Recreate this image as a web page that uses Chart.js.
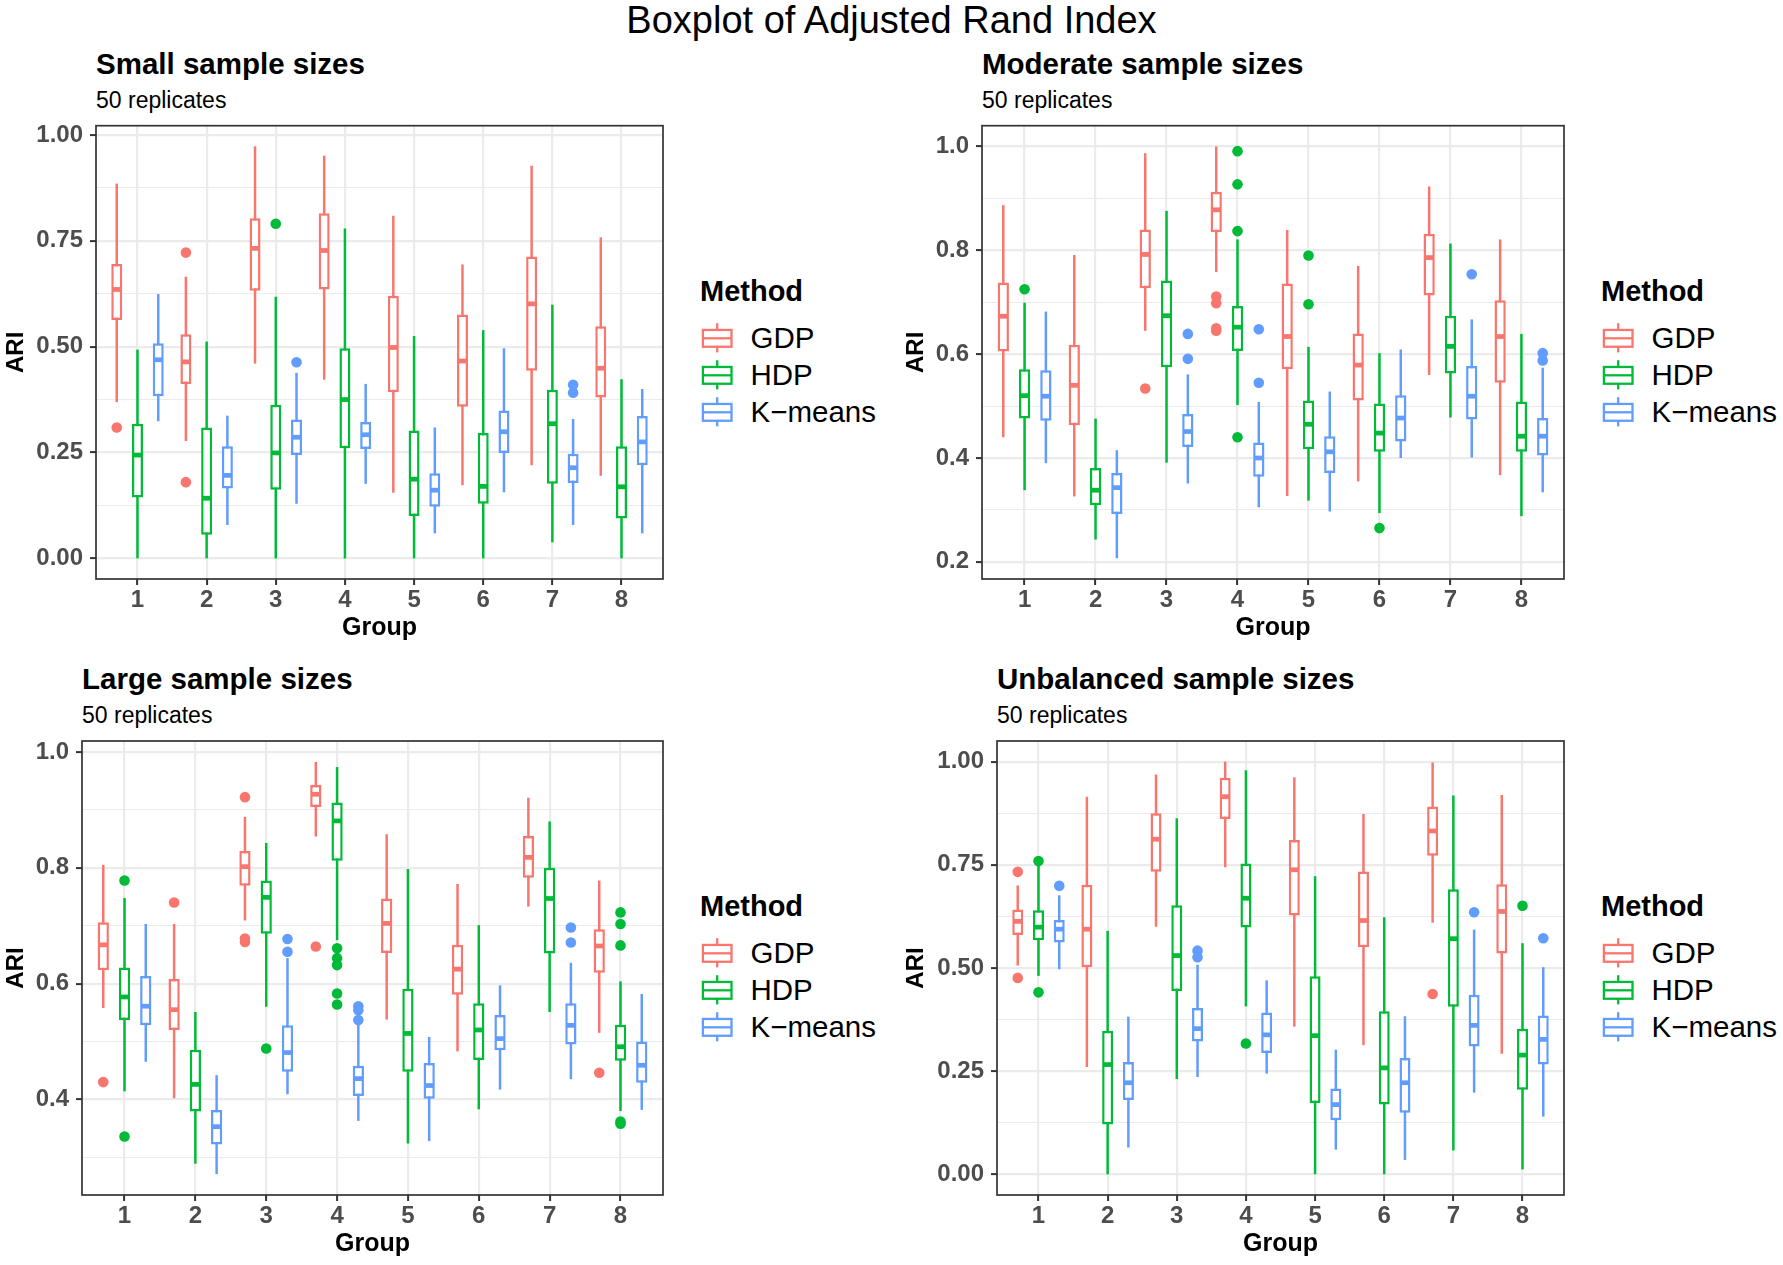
<!DOCTYPE html>
<html>
<head>
<meta charset="utf-8">
<title>Boxplot of Adjusted Rand Index</title>
<script src="https://cdn.jsdelivr.net/npm/chart.js@4.4.1/dist/chart.umd.min.js"></script>
<style>
  body { margin: 0; width: 1783px; height: 1265px; overflow: hidden; background: #fff; position: relative;
         font-family: 'Liberation Sans', Arial, sans-serif; color: #000; }
  .txt { position: absolute; line-height: 1; white-space: nowrap; }
  #title { left: 0; width: 1783px; text-align: center; top: 1px; font-size: 38px; }
  .ptitle { font-size: 29.5px; font-weight: bold; }
  .psub { font-size: 23px; }
  canvas { position: absolute; }
  .legend { position: absolute; }
  .legend .head { font-size: 29px; font-weight: bold; line-height: 1; margin-bottom: 13.2px; }
  .legend .row { display: flex; align-items: center; height: 37px; }
  .legend .row svg { display: block; }
  .legend .row span { font-size: 29.5px; line-height: 1; margin-left: 16.5px; }
</style>
</head>
<body>
<div class="txt" id="title">Boxplot of Adjusted Rand Index</div>
<script>
'use strict';

const groups = ['1', '2', '3', '4', '5', '6', '7', '8'];
const methods = ['GDP', 'HDP', 'K\u2212means'];
const methodColors = ['#F8766D', '#00BA38', '#619CFF'];

// each row: [lower whisker, Q1, median, Q3, upper whisker] for groups 1..8
// outliers: [group, value]

// Small sample sizes
const smallGdp = [[0.369, 0.563, 0.635, 0.695, 0.885], [0.277, 0.412, 0.464, 0.529, 0.665], [0.460, 0.632, 0.732, 0.803, 0.973], [0.422, 0.635, 0.727, 0.815, 0.951],
                  [0.155, 0.392, 0.498, 0.620, 0.809], [0.173, 0.358, 0.466, 0.576, 0.694], [0.220, 0.443, 0.601, 0.713, 0.927], [0.195, 0.380, 0.449, 0.548, 0.758]];
const smallHdp = [[0, 0.144, 0.244, 0.318, 0.493], [0, 0.056, 0.142, 0.309, 0.512], [0, 0.162, 0.249, 0.363, 0.618], [0, 0.260, 0.375, 0.496, 0.779],
                  [0, 0.100, 0.187, 0.302, 0.525], [0, 0.129, 0.170, 0.296, 0.539], [0.038, 0.176, 0.318, 0.398, 0.599], [0, 0.094, 0.169, 0.265, 0.423]];
const smallKm = [[0.324, 0.383, 0.469, 0.508, 0.624], [0.079, 0.165, 0.196, 0.265, 0.337], [0.129, 0.244, 0.286, 0.328, 0.438], [0.176, 0.258, 0.292, 0.322, 0.412],
                 [0.059, 0.122, 0.161, 0.201, 0.309], [0.156, 0.249, 0.299, 0.349, 0.496], [0.079, 0.178, 0.214, 0.247, 0.329], [0.059, 0.220, 0.275, 0.336, 0.400]];
const smallGdpOut = [[1, 0.309], [2, 0.722], [2, 0.180]];
const smallHdpOut = [[3, 0.790]];
const smallKmOut = [[3, 0.463], [7, 0.410], [7, 0.391]];
const smallTicks = [0, 0.25, 0.5, 0.75, 1];
const smallTickLabels = ['0.00', '0.25', '0.50', '0.75', '1.00'];
const smallMinor = [0.125, 0.375, 0.625, 0.875];

// Moderate sample sizes
const modGdp = [[0.440, 0.605, 0.673, 0.738, 0.887], [0.326, 0.463, 0.540, 0.618, 0.791], [0.645, 0.727, 0.792, 0.840, 0.987], [0.758, 0.835, 0.878, 0.913, 1.0],
                [0.327, 0.571, 0.634, 0.736, 0.839], [0.355, 0.511, 0.579, 0.640, 0.770], [0.560, 0.713, 0.786, 0.832, 0.923], [0.367, 0.545, 0.634, 0.704, 0.821]];
const modHdp = [[0.338, 0.476, 0.520, 0.571, 0.699], [0.243, 0.309, 0.338, 0.381, 0.476], [0.391, 0.575, 0.674, 0.742, 0.876], [0.502, 0.606, 0.652, 0.693, 0.821],
                [0.318, 0.417, 0.465, 0.511, 0.614], [0.294, 0.412, 0.448, 0.505, 0.602], [0.478, 0.563, 0.615, 0.674, 0.813], [0.288, 0.412, 0.442, 0.509, 0.639]];
const modKm = [[0.390, 0.472, 0.519, 0.569, 0.682], [0.207, 0.292, 0.343, 0.371, 0.415], [0.351, 0.421, 0.451, 0.485, 0.561], [0.305, 0.364, 0.400, 0.430, 0.508],
               [0.297, 0.371, 0.412, 0.442, 0.528], [0.400, 0.432, 0.477, 0.521, 0.609], [0.401, 0.474, 0.519, 0.577, 0.667], [0.334, 0.405, 0.442, 0.477, 0.574]];
const modGdpOut = [[3, 0.534], [4, 0.711], [4, 0.698], [4, 0.650], [4, 0.645]];
const modHdpOut = [[1, 0.725], [4, 0.991], [4, 0.927], [4, 0.837], [4, 0.440], [5, 0.790], [5, 0.696], [6, 0.265]];
const modKmOut = [[3, 0.639], [3, 0.591], [4, 0.648], [4, 0.545], [7, 0.754], [8, 0.602], [8, 0.588]];
const modTicks = [0.2, 0.4, 0.6, 0.8, 1.0];
const modTickLabels = ['0.2', '0.4', '0.6', '0.8', '1.0'];
const modMinor = [0.3, 0.5, 0.7, 0.9];

// Large sample sizes
const largeGdp = [[0.558, 0.623, 0.667, 0.706, 0.805], [0.402, 0.520, 0.555, 0.608, 0.703], [0.709, 0.769, 0.802, 0.829, 0.888], [0.854, 0.905, 0.927, 0.943, 0.983],
                  [0.538, 0.653, 0.704, 0.747, 0.858], [0.483, 0.581, 0.625, 0.667, 0.772], [0.733, 0.783, 0.818, 0.855, 0.921], [0.515, 0.619, 0.665, 0.694, 0.778]];
const largeHdp = [[0.414, 0.537, 0.577, 0.628, 0.748], [0.289, 0.379, 0.426, 0.486, 0.551], [0.560, 0.686, 0.749, 0.778, 0.843], [0.675, 0.812, 0.881, 0.913, 0.974],
                  [0.324, 0.448, 0.514, 0.591, 0.798], [0.383, 0.468, 0.520, 0.566, 0.701], [0.551, 0.652, 0.747, 0.800, 0.880], [0.380, 0.467, 0.491, 0.529, 0.604]];
const largeKm = [[0.465, 0.528, 0.561, 0.613, 0.703], [0.271, 0.322, 0.353, 0.382, 0.442], [0.409, 0.448, 0.481, 0.528, 0.644], [0.363, 0.406, 0.436, 0.458, 0.530],
                 [0.328, 0.401, 0.424, 0.463, 0.508], [0.417, 0.485, 0.505, 0.546, 0.597], [0.435, 0.495, 0.528, 0.566, 0.636], [0.382, 0.429, 0.459, 0.500, 0.582]];
const largeGdpOut = [[1, 0.430], [2, 0.740], [3, 0.922], [3, 0.678], [3, 0.672], [4, 0.664], [8, 0.446]];
const largeHdpOut = [[1, 0.778], [1, 0.336], [3, 0.488], [4, 0.661], [4, 0.644], [4, 0.632], [4, 0.583], [4, 0.564],
                     [8, 0.723], [8, 0.703], [8, 0.666], [8, 0.362], [8, 0.358]];
const largeKmOut = [[3, 0.677], [3, 0.655], [4, 0.561], [4, 0.554], [4, 0.537], [7, 0.697], [7, 0.671]];
const largeTicks = [0.4, 0.6, 0.8, 1.0];
const largeTickLabels = ['0.4', '0.6', '0.8', '1.0'];
const largeMinor = [0.3, 0.5, 0.7, 0.9];

// Unbalanced sample sizes
const unbGdp = [[0.506, 0.580, 0.613, 0.642, 0.700], [0.260, 0.502, 0.594, 0.702, 0.915], [0.600, 0.733, 0.812, 0.875, 0.969], [0.744, 0.861, 0.915, 0.961, 1.0],
                [0.358, 0.627, 0.738, 0.810, 0.962], [0.313, 0.550, 0.615, 0.734, 0.873], [0.610, 0.772, 0.832, 0.891, 0.998], [0.292, 0.535, 0.637, 0.703, 0.919]];
const unbHdp = [[0.481, 0.567, 0.599, 0.640, 0.748], [0, 0.121, 0.266, 0.348, 0.590], [0.231, 0.444, 0.530, 0.652, 0.863], [0.407, 0.598, 0.669, 0.753, 0.979],
                [0, 0.173, 0.336, 0.480, 0.722], [0, 0.169, 0.258, 0.395, 0.623], [0.058, 0.406, 0.571, 0.691, 0.918], [0.012, 0.205, 0.289, 0.353, 0.560]];
const unbKm = [[0.497, 0.562, 0.594, 0.616, 0.676], [0.065, 0.180, 0.222, 0.272, 0.382], [0.236, 0.322, 0.353, 0.403, 0.508], [0.244, 0.294, 0.338, 0.392, 0.470],
               [0.060, 0.131, 0.169, 0.208, 0.302], [0.035, 0.149, 0.222, 0.282, 0.383], [0.198, 0.310, 0.361, 0.435, 0.593], [0.140, 0.266, 0.327, 0.385, 0.502]];
const unbGdpOut = [[1, 0.733], [1, 0.476], [7, 0.437]];
const unbHdpOut = [[1, 0.759], [1, 0.441], [4, 0.317], [8, 0.651]];
const unbKmOut = [[1, 0.699], [3, 0.542], [3, 0.526], [7, 0.635], [8, 0.572]];
const unbTicks = [0, 0.25, 0.5, 0.75, 1];
const unbTickLabels = ['0.00', '0.25', '0.50', '0.75', '1.00'];
const unbMinor = [0.125, 0.375, 0.625, 0.875];

// panel placement (page pixels)
let panels = [
  { title: 'Small sample sizes', stats: [smallGdp, smallHdp, smallKm], out: [smallGdpOut, smallHdpOut, smallKmOut],
    ticks: smallTicks, labels: smallTickLabels, minor: smallMinor, yMin: -0.0487, yMax: 1.0217,
    left: 0, top: 115, plotLeft: 96, plotTop: 125.7, plotRight: 663, plotBottom: 579, legendLeft: 700, titleTop: 49 },
  { title: 'Moderate sample sizes', stats: [modGdp, modHdp, modKm], out: [modGdpOut, modHdpOut, modKmOut],
    ticks: modTicks, labels: modTickLabels, minor: modMinor, yMin: 0.167, yMax: 1.04,
    left: 900, top: 115, plotLeft: 982, plotTop: 125.7, plotRight: 1564, plotBottom: 579, legendLeft: 1601, titleTop: 49 },
  { title: 'Large sample sizes', stats: [largeGdp, largeHdp, largeKm], out: [largeGdpOut, largeHdpOut, largeKmOut],
    ticks: largeTicks, labels: largeTickLabels, minor: largeMinor, yMin: 0.235, yMax: 1.019,
    left: 0, top: 730, plotLeft: 82, plotTop: 741, plotRight: 663, plotBottom: 1195, legendLeft: 700, titleTop: 664 },
  { title: 'Unbalanced sample sizes', stats: [unbGdp, unbHdp, unbKm], out: [unbGdpOut, unbHdpOut, unbKmOut],
    ticks: unbTicks, labels: unbTickLabels, minor: unbMinor, yMin: -0.05, yMax: 1.05,
    left: 900, top: 730, plotLeft: 997, plotTop: 741, plotRight: 1564, plotBottom: 1195, legendLeft: 1601, titleTop: 664 }
];

const dodge = [-0.3, 0, 0.3];
const lineW = 2.5;
const axisFont = { size: 24, weight: 'bold' };

Chart.defaults.font.family = "'Liberation Sans', Arial, sans-serif";

function onList(list, v) {
  return list.some(t => Math.abs(t - v) < 1e-9);
}

// whiskers under the boxes, medians on top, then the panel frame
const boxParts = {
  id: 'boxParts',
  beforeDatasetsDraw(chart) {
    let ctx = chart.ctx;
    let y = chart.scales.y;
    chart.data.datasets.forEach((ds, d) => {
      if (!ds.stats) return;
      chart.getDatasetMeta(d).data.forEach((bar, i) => {
        ctx.save();
        ctx.strokeStyle = ds.borderColor;
        ctx.lineWidth = lineW;
        ctx.beginPath();
        ctx.moveTo(bar.x, y.getPixelForValue(ds.stats[i][0]));
        ctx.lineTo(bar.x, y.getPixelForValue(ds.stats[i][4]));
        ctx.stroke();
        ctx.restore();
      });
    });
  },
  afterDatasetsDraw(chart) {
    let ctx = chart.ctx;
    let y = chart.scales.y;
    chart.data.datasets.forEach((ds, d) => {
      if (!ds.stats) return;
      chart.getDatasetMeta(d).data.forEach((bar, i) => {
        let half = bar.width / 2 - lineW / 2;
        let py = y.getPixelForValue(ds.stats[i][2]);
        ctx.save();
        ctx.strokeStyle = ds.borderColor;
        ctx.lineWidth = lineW * 1.9;
        ctx.beginPath();
        ctx.moveTo(bar.x - half, py);
        ctx.lineTo(bar.x + half, py);
        ctx.stroke();
        ctx.restore();
      });
    });
  },
  afterDraw(chart) {
    let a = chart.chartArea;
    let ctx = chart.ctx;
    ctx.save();
    ctx.strokeStyle = '#333333';
    ctx.lineWidth = 1.7;
    ctx.strokeRect(a.left, a.top, a.right - a.left, a.bottom - a.top);
    ctx.restore();
  }
};

function addText(cls, text, left, top) {
  let div = document.createElement('div');
  div.className = 'txt ' + cls;
  div.textContent = text;
  div.style.left = left + 'px';
  div.style.top = top + 'px';
  document.body.appendChild(div);
}

function addLegend(left, top) {
  let box = document.createElement('div');
  box.className = 'legend';
  box.style.left = left + 'px';
  box.style.top = top + 'px';
  let head = document.createElement('div');
  head.className = 'head';
  head.textContent = 'Method';
  box.appendChild(head);
  for (let m = 0; m < methods.length; m++) {
    let c = methodColors[m];
    let row = document.createElement('div');
    row.className = 'row';
    row.innerHTML =
      '<svg width="34" height="34">' +
      '<line x1="17.2" y1="2.2" x2="17.2" y2="31.4" stroke="' + c + '" stroke-width="2.3"/>' +
      '<rect x="2.9" y="8.95" width="28.6" height="16.8" fill="#fff" stroke="' + c + '" stroke-width="2.3"/>' +
      '<line x1="2.9" y1="17.3" x2="31.5" y2="17.3" stroke="' + c + '" stroke-width="2.3"/>' +
      '</svg><span>' + methods[m] + '</span>';
    box.appendChild(row);
  }
  document.body.appendChild(box);
}

function drawPanel(p) {
  addText('ptitle', p.title, p.plotLeft, p.titleTop);
  addText('psub', '50 replicates', p.plotLeft, p.titleTop + 40);
  addLegend(p.legendLeft, p.titleTop + 228.2);

  let canvas = document.createElement('canvas');
  canvas.width = 680;
  canvas.height = p.plotBottom + 66 - p.top;
  canvas.style.left = p.left + 'px';
  canvas.style.top = p.top + 'px';
  document.body.appendChild(canvas);

  let datasets = [];
  for (let m = 0; m < methods.length; m++) {
    datasets.push({
      type: 'bar',
      label: methods[m],
      data: p.stats[m].map((s, i) => ({ x: Number(groups[i]), y: [s[1], s[3]] })),
      stats: p.stats[m],
      backgroundColor: '#ffffff',
      borderColor: methodColors[m],
      borderWidth: lineW,
      borderSkipped: false,
      barPercentage: 0.53,
      categoryPercentage: 0.9
    });
  }
  for (let m = 0; m < methods.length; m++) {
    datasets.push({
      type: 'scatter',
      label: methods[m] + ' outliers',
      data: p.out[m].map(o => ({ x: o[0] + dodge[m], y: o[1] })),
      backgroundColor: methodColors[m],
      pointRadius: 5.3,
      pointHoverRadius: 5.3,
      borderWidth: 0
    });
  }

  let yTicks = p.ticks.concat(p.minor).sort((a, b) => a - b);

  new Chart(canvas, {
    type: 'bar',
    data: { datasets: datasets },
    plugins: [boxParts],
    options: {
      responsive: false,
      animation: false,
      events: [],
      layout: { padding: { left: 0, top: p.plotTop - p.top, right: 680 - (p.plotRight - p.left), bottom: 0 } },
      plugins: { legend: { display: false }, tooltip: { enabled: false } },
      scales: {
        x: {
          type: 'linear',
          min: 0.4,
          max: 8.6,
          offset: false,
          afterBuildTicks: s => { s.ticks = groups.map(g => ({ value: Number(g) })); },
          afterFit: s => { s.height = 66; s.paddingLeft = 0; s.paddingRight = 0; },
          border: { display: false },
          grid: { offset: false, color: '#EBEBEB', lineWidth: 2.2, tickLength: 6, tickColor: '#333333', tickWidth: 2 },
          ticks: {
            autoSkip: false, maxRotation: 0, padding: 0.6, color: '#4D4D4D', font: axisFont,
            callback: v => groups[Math.round(v) - 1]
          },
          title: { display: true, text: 'Group', color: '#000000', font: { size: 25, weight: 'bold' }, padding: { top: 0, bottom: 1.5 } }
        },
        y: {
          type: 'linear',
          min: p.yMin,
          max: p.yMax,
          beginAtZero: false,
          afterBuildTicks: s => { s.ticks = yTicks.map(v => ({ value: v })); },
          afterFit: s => { s.width = p.plotLeft - p.left; s.paddingTop = 0; s.paddingBottom = 0; },
          border: { display: false },
          grid: {
            color: '#EBEBEB',
            lineWidth: c => onList(p.ticks, c.tick.value) ? 2.2 : 1.1,
            tickLength: 6,
            tickWidth: 2,
            tickColor: c => onList(p.ticks, c.tick.value) ? '#333333' : 'rgba(0,0,0,0)'
          },
          ticks: {
            autoSkip: false, padding: 7, color: '#4D4D4D', font: axisFont,
            callback: v => {
              let i = p.ticks.findIndex(t => Math.abs(t - v) < 1e-9);
              return i >= 0 ? p.labels[i] : '';
            }
          },
          title: { display: true, text: 'ARI', color: '#000000', font: { size: 24, weight: 'bold' }, padding: { top: 1.6, bottom: 0 } }
        }
      }
    }
  });
}

panels.forEach(drawPanel);
</script>
</body>
</html>
